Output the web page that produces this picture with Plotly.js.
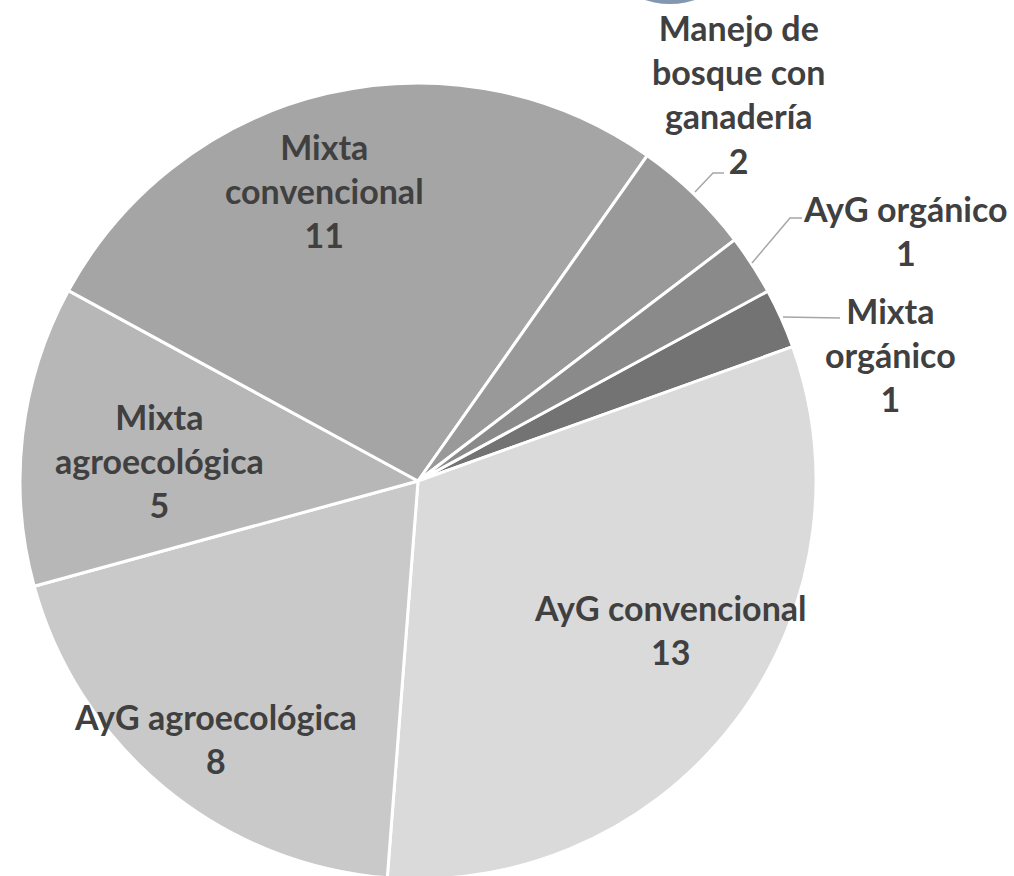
<!DOCTYPE html>
<html>
<head>
<meta charset="utf-8">
<script src="https://cdn.plot.ly/plotly-3.0.1.min.js"></script>
<style>
  html, body { margin: 0; padding: 0; background: #ffffff; overflow: hidden; }
  #chart { width: 1014px; height: 880px; }
</style>
</head>
<body>
<div id="chart"></div>
<script>
// ---- data ----
const categories = [
  "Mixta orgánico",
  "AyG convencional",
  "AyG agroecológica",
  "Mixta agroecológica",
  "Mixta convencional",
  "Manejo de bosque con ganadería",
  "AyG orgánico"
];
const values = [1, 13, 8, 5, 11, 2, 1];
const labelLines = [
  "Mixta<br>orgánico",
  "AyG convencional",
  "AyG agroecológica",
  "Mixta<br>agroecológica",
  "Mixta<br>convencional",
  "Manejo de<br>bosque con<br>ganadería",
  "AyG orgánico"
];

// ---- styles / layout ----
const sliceColors = ["#737373", "#dadada", "#c9c9c9", "#b7b7b7", "#a5a5a5", "#999999", "#8a8a8a"];
const W = 1014, H = 880;
const px = x => x / W;
const py = y => 1 - y / H;

// label block centers (pixels)
const labelPos = [
  [890, 355], [670, 629], [215, 738], [159, 461], [324, 190], [738, 94], [905, 230]
];
// leader lines (pixels)
const leaders = [
  [[783, 317], [840, 318]],
  null, null, null, null,
  [[695, 192], [713, 173], [724, 173]],
  [[752, 263], [790, 218], [802, 218]]
];

const textFont = { family: "Lato, 'Open Sans', sans-serif", size: 34, color: "#404040", weight: 700 };

const trace = {
  type: "pie",
  labels: categories,
  values: values,
  sort: false,
  direction: "clockwise",
  rotation: 61.5,
  marker: { colors: sliceColors, line: { color: "#ffffff", width: 3 } },
  textinfo: "none",
  hoverinfo: "label+value",
  showlegend: false,
  domain: { x: [px(20), px(816)], y: [py(879), py(83)] }
};

const annotations = categories.map((c, i) => ({
  xref: "paper", yref: "paper",
  x: px(labelPos[i][0]), y: py(labelPos[i][1]),
  xanchor: "center", yanchor: "middle",
  align: "center",
  showarrow: false,
  text: labelLines[i] + "<br>" + values[i],
  font: textFont
}));

const shapes = [];
leaders.forEach(l => {
  if (!l) return;
  const d = l.map((p, k) => (k === 0 ? "M" : "L") + px(p[0]) + "," + py(p[1])).join(" ");
  shapes.push({ type: "path", xref: "paper", yref: "paper", path: d,
    line: { color: "#a6a6a6", width: 1.5 } });
});
// small cropped ornament at the top edge
shapes.push({ type: "circle", xref: "paper", yref: "paper",
  x0: px(590), x1: px(750), y0: py(4), y1: py(-156),
  fillcolor: "#8497b0", line: { width: 0 } });

const layout = {
  width: W, height: H,
  margin: { l: 0, r: 0, t: 0, b: 0 },
  paper_bgcolor: "#ffffff",
  showlegend: false,
  annotations: annotations,
  shapes: shapes
};

Plotly.newPlot("chart", [trace], layout, { displayModeBar: false, staticPlot: true });
</script>
</body>
</html>
